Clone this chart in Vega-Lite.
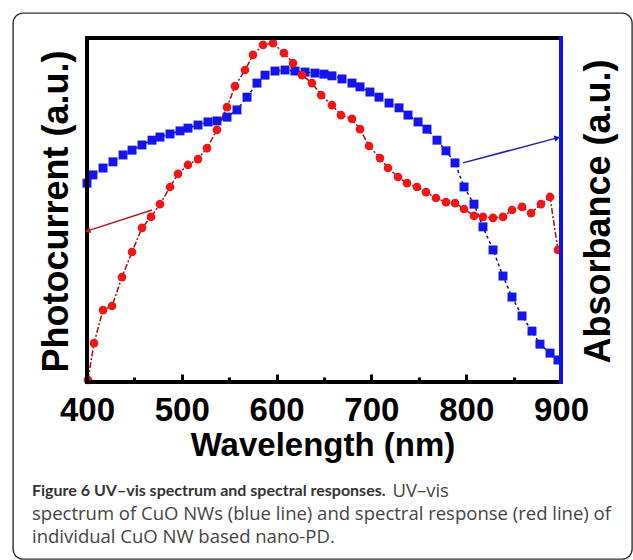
{
  "$schema": "https://vega.github.io/schema/vega-lite/v6.json",
  "width": 619,
  "height": 546,
  "autosize": {"type": "none"},
  "padding": {"left": 13, "top": 13, "right": 1, "bottom": 1},
  "background": "white",
  "config": {
    "view": {"stroke": "#333333", "strokeWidth": 1.4, "cornerRadius": 10},
    "font": "Liberation Sans"
  },
  "title": {
    "text": "Figure 6 UV–vis spectrum and spectral responses.",
    "subtitle": [
      "\u200b\u00a0\u00a0\u00a0\u00a0\u00a0\u00a0\u00a0\u00a0\u00a0\u00a0\u00a0\u00a0\u00a0\u00a0\u00a0\u00a0\u00a0\u00a0\u00a0\u00a0\u00a0\u00a0\u00a0\u00a0\u00a0\u00a0\u00a0\u00a0\u00a0\u00a0\u00a0\u00a0\u00a0\u00a0\u00a0\u00a0\u00a0\u00a0\u00a0\u00a0\u00a0\u00a0\u00a0\u00a0\u00a0\u00a0\u00a0\u00a0\u00a0\u00a0\u00a0\u00a0\u00a0\u00a0\u00a0\u00a0\u00a0\u00a0\u00a0\u00a0\u00a0\u00a0\u00a0\u00a0\u00a0\u00a0\u00a0\u00a0\u00a0\u00a0\u00a0\u00a0\u00a0\u00a0\u00a0UV–vis",
      "spectrum of CuO NWs (blue line) and spectral response (red line) of",
      "individual CuO NW based nano-PD."
    ],
    "orient": "bottom",
    "anchor": "start",
    "frame": "group",
    "offset": -76,
    "dx": 19,
    "font": "Lato",
    "fontSize": 16,
    "fontWeight": "bold",
    "color": "#333333",
    "subtitleFont": "Open Sans",
    "subtitleFontSize": 18.5,
    "subtitleColor": "#444444",
    "subtitleLineHeight": 23,
    "subtitlePadding": -17
  },
  "datasets": {
    "blue": [
      {"wl": 400, "v": 57.8}, {"wl": 406.3, "v": 60.2}, {"wl": 416.9, "v": 62.2}, {"wl": 427.4, "v": 64.0},
      {"wl": 438.0, "v": 66.0}, {"wl": 447.5, "v": 67.4}, {"wl": 458.0, "v": 68.9}, {"wl": 468.6, "v": 70.3},
      {"wl": 477.0, "v": 71.2}, {"wl": 487.6, "v": 72.1}, {"wl": 498.1, "v": 73.0}, {"wl": 506.5, "v": 73.8},
      {"wl": 517.1, "v": 74.7}, {"wl": 527.6, "v": 75.6}, {"wl": 537.1, "v": 75.9}, {"wl": 547.7, "v": 77.0},
      {"wl": 558.2, "v": 79.1}, {"wl": 568.8, "v": 82.8}, {"wl": 579.3, "v": 86.9}, {"wl": 587.8, "v": 89.2},
      {"wl": 598.3, "v": 90.4}, {"wl": 608.9, "v": 90.7}, {"wl": 619.4, "v": 90.4}, {"wl": 630.0, "v": 90.1},
      {"wl": 640.5, "v": 89.8}, {"wl": 650.0, "v": 89.5}, {"wl": 658.4, "v": 89.0}, {"wl": 669.0, "v": 88.1},
      {"wl": 679.5, "v": 86.9}, {"wl": 688.0, "v": 85.8}, {"wl": 698.5, "v": 84.3}, {"wl": 708.0, "v": 82.8},
      {"wl": 718.6, "v": 81.1}, {"wl": 729.1, "v": 79.7}, {"wl": 738.6, "v": 77.6}, {"wl": 749.2, "v": 75.6},
      {"wl": 758.6, "v": 73.5}, {"wl": 769.2, "v": 70.3}, {"wl": 778.7, "v": 67.2}, {"wl": 788.2, "v": 63.7},
      {"wl": 797.7, "v": 56.7}, {"wl": 808.2, "v": 51.7}, {"wl": 817.7, "v": 45.1}, {"wl": 828.3, "v": 38.4},
      {"wl": 838.8, "v": 30.8}, {"wl": 848.3, "v": 24.7}, {"wl": 858.9, "v": 19.2}, {"wl": 869.4, "v": 14.8},
      {"wl": 877.8, "v": 11.0}, {"wl": 888.4, "v": 8.4}, {"wl": 896.8, "v": 6.4}
    ],
    "red": [
      {"wl": 401.0, "v": 0.6}, {"wl": 407.4, "v": 11.3}, {"wl": 416.9, "v": 20.9}, {"wl": 426.4, "v": 22.1},
      {"wl": 436.9, "v": 30.5}, {"wl": 447.5, "v": 37.8}, {"wl": 458.0, "v": 44.8}, {"wl": 467.5, "v": 48.0},
      {"wl": 477.0, "v": 51.7}, {"wl": 487.6, "v": 56.7}, {"wl": 496.0, "v": 60.5}, {"wl": 506.5, "v": 63.1},
      {"wl": 517.1, "v": 64.8}, {"wl": 526.6, "v": 68.0}, {"wl": 537.1, "v": 73.3}, {"wl": 547.7, "v": 79.9},
      {"wl": 556.1, "v": 86.0}, {"wl": 566.7, "v": 90.7}, {"wl": 575.1, "v": 95.1}, {"wl": 585.7, "v": 98.0},
      {"wl": 596.2, "v": 98.5}, {"wl": 607.8, "v": 95.6}, {"wl": 617.3, "v": 92.7}, {"wl": 626.8, "v": 89.2},
      {"wl": 637.3, "v": 86.9}, {"wl": 647.0, "v": 83.4}, {"wl": 658.4, "v": 80.5}, {"wl": 667.9, "v": 77.6},
      {"wl": 679.5, "v": 76.5}, {"wl": 688.0, "v": 73.5}, {"wl": 697.5, "v": 68.6}, {"wl": 709.1, "v": 65.1},
      {"wl": 717.5, "v": 62.2}, {"wl": 728.1, "v": 59.6}, {"wl": 737.6, "v": 57.8}, {"wl": 748.1, "v": 56.7},
      {"wl": 757.6, "v": 55.2}, {"wl": 768.1, "v": 53.5}, {"wl": 778.7, "v": 52.3}, {"wl": 788.2, "v": 52.0},
      {"wl": 797.7, "v": 50.3}, {"wl": 808.2, "v": 48.3}, {"wl": 817.7, "v": 48.0}, {"wl": 828.3, "v": 47.7},
      {"wl": 838.8, "v": 48.0}, {"wl": 848.3, "v": 50.0}, {"wl": 858.9, "v": 50.9}, {"wl": 868.4, "v": 49.1},
      {"wl": 878.9, "v": 51.7}, {"wl": 888.4, "v": 53.8}, {"wl": 896.8, "v": 38.4}
    ],
    "arrows": [
      {"series": "photocurrent", "wl": 468.6, "v": 50.0, "wl2": 401.5, "v2": 44.0},
      {"series": "absorbance", "wl": 796.6, "v": 63.7, "wl2": 895.0, "v2": 70.9}
    ]
  },
  "resolve": {"axis": {"x": "independent", "y": "independent"}},
  "layer": [
    {
      "data": {"name": "blue"},
      "mark": {"type": "line", "color": "#101080", "strokeWidth": 1.5, "strokeDash": [3, 3]},
      "encoding": {
        "x": {"field": "wl", "type": "quantitative", "scale": {"domain": [321.94, 974.89], "nice": false, "zero": false},
          "axis": {"orient": "bottom", "offset": -177, "values": [400, 500, 600, 700, 800, 900], "domain": false, "grid": false,
            "ticks": false,
            "labelFont": "Liberation Sans", "labelFontSize": 33, "labelFontWeight": "bold", "labelColor": "black", "labelPadding": 12, "labelFlush": false, "labelOverlap": false,
            "title": "Wavelength (nm)", "titleFont": "Liberation Sans", "titleFontSize": 33, "titleFontWeight": "bold", "titleColor": "black", "titlePadding": 2}},
        "y": {"field": "v", "type": "quantitative", "scale": {"domain": [-51.45, 107.27], "nice": false, "zero": false},
          "axis": {"orient": "right", "domain": false, "ticks": false, "labels": false, "grid": false,
            "title": "Absorbance (a.u.)", "titleFont": "Liberation Sans", "titleFontSize": 36, "titleFontWeight": "bold", "titleColor": "black",
            "titleAngle": 270, "titleX": -34, "titleY": 198, "titleBaseline": "middle", "titleAlign": "center"}}
      }
    },
    {
      "data": {"name": "red"},
      "mark": {"type": "line", "color": "#a01010", "strokeWidth": 1.5, "strokeDash": [6, 2, 2, 2]},
      "encoding": {
        "x": {"field": "wl", "type": "quantitative", "scale": {"domain": [321.94, 974.89], "nice": false, "zero": false},
          "axis": {"orient": "top", "offset": -369, "values": [400, 450, 500, 550, 600, 650, 700, 750, 800, 850, 900], "domain": false, "grid": false, "labels": false,
            "tickSize": {"condition": {"test": "datum.value % 100 === 0", "value": 8}, "value": 5}, "tickWidth": 3, "tickColor": "black", "title": null}},
        "y": {"field": "v", "type": "quantitative", "scale": {"domain": [-51.45, 107.27], "nice": false, "zero": false},
          "axis": {"orient": "left", "domain": false, "ticks": false, "labels": false, "grid": false,
            "title": "Photocurrent (a.u.)", "titleFont": "Liberation Sans", "titleFontSize": 36, "titleFontWeight": "bold", "titleColor": "black",
            "titleAngle": 270, "titleX": 43, "titleY": 198, "titleBaseline": "middle", "titleAlign": "center"}}
      }
    },
    {
      "data": {"name": "blue"},
      "mark": {"type": "square", "size": 80, "filled": true, "color": "#1414ee", "opacity": 1},
      "encoding": {
        "x": {"field": "wl", "type": "quantitative", "scale": {"domain": [321.94, 974.89], "nice": false, "zero": false}, "axis": null},
        "y": {"field": "v", "type": "quantitative", "scale": {"domain": [-51.45, 107.27], "nice": false, "zero": false}, "axis": null}
      }
    },
    {
      "data": {"name": "red"},
      "mark": {"type": "circle", "size": 75, "color": "#f01616", "opacity": 1},
      "encoding": {
        "x": {"field": "wl", "type": "quantitative", "scale": {"domain": [321.94, 974.89], "nice": false, "zero": false}, "axis": null},
        "y": {"field": "v", "type": "quantitative", "scale": {"domain": [-51.45, 107.27], "nice": false, "zero": false}, "axis": null}
      }
    },
    {
      "data": {"values": [{}]},
      "mark": {"type": "rule", "color": "black", "strokeWidth": 4, "strokeCap": "square"},
      "encoding": {
        "x": {"datum": 400, "type": "quantitative", "scale": {"domain": [321.94, 974.89], "nice": false, "zero": false}, "axis": null},
        "x2": {"datum": 900},
        "y": {"datum": 100, "type": "quantitative", "scale": {"domain": [-51.45, 107.27], "nice": false, "zero": false}, "axis": null}
      }
    },
    {
      "data": {"values": [{}]},
      "mark": {"type": "rule", "color": "black", "strokeWidth": 4, "strokeCap": "square"},
      "encoding": {
        "x": {"datum": 400, "type": "quantitative", "scale": {"domain": [321.94, 974.89], "nice": false, "zero": false}, "axis": null},
        "x2": {"datum": 900},
        "y": {"datum": 0, "type": "quantitative", "scale": {"domain": [-51.45, 107.27], "nice": false, "zero": false}, "axis": null}
      }
    },
    {
      "data": {"values": [{}]},
      "mark": {"type": "rule", "color": "black", "strokeWidth": 4, "strokeCap": "square"},
      "encoding": {
        "x": {"datum": 400, "type": "quantitative", "scale": {"domain": [321.94, 974.89], "nice": false, "zero": false}, "axis": null},
        "y": {"datum": 0, "type": "quantitative", "scale": {"domain": [-51.45, 107.27], "nice": false, "zero": false}, "axis": null},
        "y2": {"datum": 100}
      }
    },
    {
      "data": {"values": [{}]},
      "mark": {"type": "rule", "color": "#1010e8", "strokeWidth": 4, "strokeCap": "square"},
      "encoding": {
        "x": {"datum": 900, "type": "quantitative", "scale": {"domain": [321.94, 974.89], "nice": false, "zero": false}, "axis": null},
        "y": {"datum": 0, "type": "quantitative", "scale": {"domain": [-51.45, 107.27], "nice": false, "zero": false}, "axis": null},
        "y2": {"datum": 100}
      }
    },
    {
      "data": {"name": "arrows"},
      "transform": [{"filter": "datum.series === 'photocurrent'"}],
      "layer": [
        {"mark": {"type": "rule", "color": "#b01c1c", "strokeWidth": 1.5},
         "encoding": {
           "x": {"field": "wl", "type": "quantitative", "scale": {"domain": [321.94, 974.89], "nice": false, "zero": false}, "axis": null},
           "y": {"field": "v", "type": "quantitative", "scale": {"domain": [-51.45, 107.27], "nice": false, "zero": false}, "axis": null},
           "x2": {"field": "wl2"}, "y2": {"field": "v2"}}},
        {"mark": {"type": "point", "shape": "triangle", "size": 40, "filled": true, "color": "#b01c1c", "angle": 252, "opacity": 1},
         "encoding": {
           "x": {"field": "wl2", "type": "quantitative", "scale": {"domain": [321.94, 974.89], "nice": false, "zero": false}, "axis": null},
           "y": {"field": "v2", "type": "quantitative", "scale": {"domain": [-51.45, 107.27], "nice": false, "zero": false}, "axis": null}}}
      ]
    },
    {
      "data": {"name": "arrows"},
      "transform": [{"filter": "datum.series === 'absorbance'"}],
      "layer": [
        {"mark": {"type": "rule", "color": "#1c1ca8", "strokeWidth": 1.5},
         "encoding": {
           "x": {"field": "wl", "type": "quantitative", "scale": {"domain": [321.94, 974.89], "nice": false, "zero": false}, "axis": null},
           "y": {"field": "v", "type": "quantitative", "scale": {"domain": [-51.45, 107.27], "nice": false, "zero": false}, "axis": null},
           "x2": {"field": "wl2"}, "y2": {"field": "v2"}}},
        {"mark": {"type": "point", "shape": "triangle", "size": 40, "filled": true, "color": "#1c1ca8", "angle": 75, "opacity": 1},
         "encoding": {
           "x": {"field": "wl2", "type": "quantitative", "scale": {"domain": [321.94, 974.89], "nice": false, "zero": false}, "axis": null},
           "y": {"field": "v2", "type": "quantitative", "scale": {"domain": [-51.45, 107.27], "nice": false, "zero": false}, "axis": null}}}
      ]
    }
  ]
}
